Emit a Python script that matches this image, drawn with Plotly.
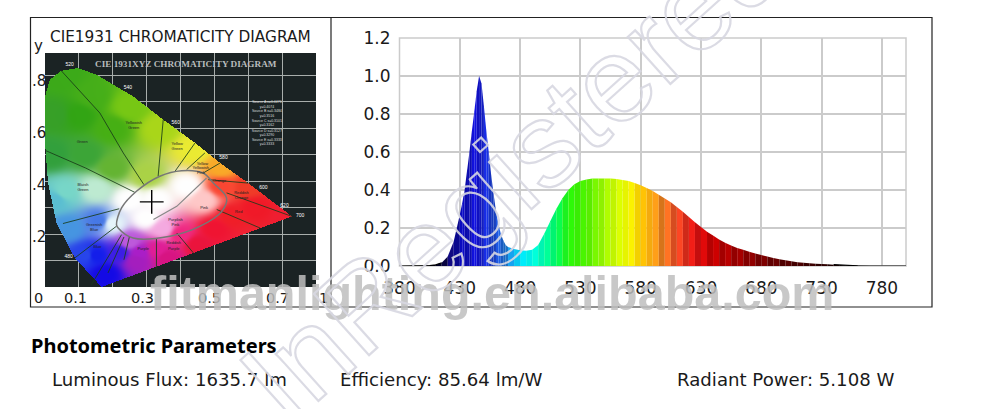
import numpy as np
import plotly.graph_objects as go

W, H = 985, 409

# spectrum
wavelengths = [380, 385, 390, 395, 400, 405, 410, 415, 420, 425,
               430, 432, 434, 436, 438, 440, 442, 444, 446, 448, 450, 452, 454, 456, 458,
               460, 462, 464, 466, 468, 470, 475, 480, 485, 490, 495, 500, 505, 510, 515,
               520, 525, 530, 535, 540, 545, 550, 555, 560, 565, 570, 575, 580, 585, 590,
               595, 600, 605, 610, 615, 620, 625, 630, 635, 640, 645, 650, 655, 660, 665,
               670, 675, 680, 685, 690, 695, 700, 705, 710, 715, 720, 725, 730, 735, 740,
               745, 750, 755, 760, 770, 780, 790, 800]
intensity = [0, 0, 0, 0, .001, .002, .006, .017, .05, .13,
             .27, .33, .40, .50, .60, .71, .81, .92, 1.0, .96, .84, .71, .60, .48, .38,
             .29, .22, .17, .135, .11, .10, .09, .083, .08, .085, .11, .17, .235, .30, .355,
             .40, .43, .447, .455, .46, .46, .46, .46, .458, .453, .447, .437, .425, .41, .395,
             .375, .355, .335, .31, .285, .258, .23, .205, .18, .16, .14, .123, .108, .095, .085,
             .075, .066, .058, .05, .042, .036, .03, .025, .02, .017, .014, .012, .011, .009, .007,
             .005, .003, .002, .001, 0, 0, 0, 0]
x_ticks = [380, 430, 480, 530, 580, 630, 680, 730, 780]
y_ticks = [0.0, 0.2, 0.4, 0.6, 0.8, 1.0, 1.2]

# colour of the fill along the spectrum
stop_nm = [380, 415, 420, 430, 445, 460, 470, 480, 490, 500, 510, 520, 535, 555, 570, 580, 595, 610, 625, 640, 660, 680, 700, 730, 760, 800]
stop_rgb = [(0, 0, 0), (0, 0, 40), (20, 10, 110), (10, 10, 190), (20, 20, 230), (30, 80, 225), (30, 140, 235),
            (0, 230, 255), (0, 255, 235), (0, 255, 170), (0, 255, 100), (40, 250, 10), (80, 245, 0), (190, 255, 0),
            (250, 255, 0), (255, 205, 0), (255, 150, 30), (255, 80, 40), (240, 20, 20), (210, 0, 0), (170, 0, 0),
            (130, 0, 0), (90, 0, 0), (50, 0, 0), (0, 0, 0), (0, 0, 0)]

# locus of the chromaticity diagram
locus_x = [.167, .088, .034, .009, 0, 0, .014, .048, .098, .152, .26, .349, .443, .517, .6, .729]
locus_y = [0, .11, .242, .393, .545, .721, .784, .818, .828, .803, .721, .633, .545, .469, .393, .267]
anchor_x = [.05, .14, .25, .34, .44, .52, .6, .72, .55, .45, .36, .27, .18, .12, .07, .03, .06, .15, .02, .12, .03, .2, .3,
            .25, .33, .42, .3, .2, .35, .47, .25,
            .1, .2, .16, .22, .15, .4, .5, .62, .52, .33, .28]
anchor_y = [.8, .72, .68, .6, .52, .45, .38, .27, .27, .16, .11, .1, .05, .12, .22, .33, .36, .37, .5, .5, .65, .45, .42,
            .33, .33, .38, .26, .24, .22, .33, .17,
            .65, .6, .25, .13, .12, .2, .22, .3, .38, .14, .13]
anchor_rgb = [(60, 170, 25), (70, 175, 25), (120, 200, 20), (170, 215, 25), (235, 235, 50), (250, 170, 40), (240, 60, 40),
              (240, 30, 50), (240, 30, 40), (235, 20, 60), (215, 20, 130), (165, 30, 190), (20, 10, 230), (40, 70, 235),
              (70, 150, 225), (90, 190, 210), (120, 215, 200), (190, 235, 210), (50, 160, 60), (60, 165, 55), (55, 160, 40),
              (100, 180, 50), (170, 210, 70), (255, 255, 255), (255, 255, 255), (255, 255, 255), (255, 255, 255),
              (230, 245, 250), (245, 170, 225), (255, 200, 200), (190, 90, 220),
              (50, 165, 20), (70, 175, 20), (70, 120, 230), (60, 30, 230), (20, 30, 235), (240, 40, 130), (240, 20, 50),
              (240, 25, 40), (250, 70, 50), (225, 30, 150), (170, 30, 200)]

# region boundaries inside the diagram
region_lines = [
    [(.048, .818), (.162, .658), (.231, .507), (.292, .387)],
    [(0, .517), (.12, .45), (.265, .358)],
    [(.053, .24), (.219, .296)],
    [(.088, .11), (.211, .23)],
    [(.137, .009), (.226, .198)],
    [(.186, .053), (.233, .189)],
    [(.233, .103), (.249, .189)],
    [(.349, .633), (.334, .419)],
    [(.443, .545), (.384, .438)],
    [(.472, .507), (.418, .444)],
    [(.517, .469), (.467, .431)],
    [(.6, .393), (.482, .406)],
    [(.729, .267), (.536, .356)],
    [(.635, .223), (.507, .293)],
    [(.389, .204), (.438, .129)],
    [(.329, .182), (.329, .066)],
]
ellipse_x = [.211, .226, .27, .339, .403, .467, .497, .536, .522, .458, .369, .26, .216, .211]
ellipse_y = [.236, .299, .362, .419, .44, .431, .393, .337, .286, .23, .192, .185, .223, .236]
inner_x = [.32, .389, .477]
inner_y = [.255, .305, .412]
white_x = [.315]
white_y = [.322]

region_names = ['Yellowish<br>Green', 'Green', 'Bluish<br>Green', 'Greenish<br>Blue', 'Blue', 'Purple', 'Reddish<br>Purple',
                'Purplish<br>Pink', 'Pink', 'Red', 'Reddish<br>Orange', 'Orange', 'Yellow', 'Yellowish<br>Pink', 'Yellow<br>Green']
name_x = [.262, .11, .112, .145, .155, .29, .38, .385, .47, .572, .58, .515, .465, .46, .39]
name_y = [.61, .55, .375, .225, .15, .145, .155, .245, .30, .285, .345, .40, .465, .44, .53]
nm_names = ['520', '540', '560', '580', '600', '620', '700', '480']
nm_x = [.073, .245, .386, .527, .645, .707, .753, .07]
nm_y = [.841, .753, .62, .49, .375, .309, .271, .116]
source_names = ['Source A x=0.4476<br>y=0.4074<br>Source B x=0.3484<br>y=0.3516<br>Source C x=0.3101<br>y=0.3162',
                'Source D x=0.3127<br>y=0.3290<br>Source E x=0.3333<br>y=0.3333']
source_x = [.655, .655]
source_y = [.655, .565]

fig = go.Figure()


def px(x):
    return x / W


def py(y):
    return 1 - y / H


# spectrum: one filled piece between each two readings
for a, b, va, vb in zip(wavelengths[:-1], wavelengths[1:], intensity[:-1], intensity[1:]):
    mid = (a + b) / 2
    rgb = [np.interp(mid, stop_nm, [c[i] for c in stop_rgb]) for i in range(3)]
    stripe = .84 if (mid < 470 or mid > 590) else .96
    k = 1.0 if int(mid // 5) % 2 == 0 else stripe
    col = 'rgb(%d,%d,%d)' % tuple(c * k for c in rgb)
    fig.add_trace(go.Scatter(x=[a, b], y=[va, vb], mode='lines', fill='tozeroy', fillcolor=col,
                             line=dict(width=0, color=col), hoverinfo='skip', xaxis='x', yaxis='y'))
fig.add_trace(go.Scatter(x=wavelengths[:8], y=intensity[:8], mode='lines', line=dict(color='black', width=1.2)))
fig.add_trace(go.Scatter(x=wavelengths[-9:], y=intensity[-9:], mode='lines', line=dict(color='black', width=1.2)))

# chromaticity image
nx, ny = 271, 234
gx = (np.arange(nx) + .5) * .8 / nx
gy = (np.arange(ny) + .5) * .885 / ny
X, Y = np.meshgrid(gx, gy)
d2 = (X[..., None] - np.array(anchor_x)) ** 2 + (Y[..., None] - np.array(anchor_y)) ** 2
w = 1 / (d2 + 1e-5) ** 2
rgb_img = (w[..., None] * np.array(anchor_rgb)).sum(axis=2) / w.sum(axis=2)[..., None]
inside = np.zeros_like(X, dtype=bool)
lx, ly = np.array(locus_x), np.array(locus_y)
for i in range(len(lx)):
    j = (i + 1) % len(lx)
    cross = ((ly[i] > Y) != (ly[j] > Y)) & (X < (lx[j] - lx[i]) * (Y - ly[i]) / (ly[j] - ly[i] + 1e-12) + lx[i])
    inside ^= cross
img = np.dstack([rgb_img, inside * 255.0]).astype(np.uint8)
fig.add_trace(go.Image(z=img, colormodel='rgba', x0=gx[0], dx=.8 / nx, y0=gy[0], dy=.885 / ny, xaxis='x2', yaxis='y2', hoverinfo='skip'))

for seg in region_lines:
    fig.add_trace(go.Scatter(x=[p[0] for p in seg], y=[p[1] for p in seg], mode='lines',
                             line=dict(color='rgba(25,60,25,.85)', width=1), xaxis='x2', yaxis='y2'))
fig.add_trace(go.Scatter(x=ellipse_x, y=ellipse_y, mode='lines', line=dict(color='#777', width=1.5, shape='spline'), xaxis='x2', yaxis='y2'))
fig.add_trace(go.Scatter(x=inner_x, y=inner_y, mode='lines', line=dict(color='#888', width=1.2), xaxis='x2', yaxis='y2'))
fig.add_trace(go.Scatter(x=white_x, y=white_y, mode='markers', xaxis='x2', yaxis='y2',
                         marker=dict(symbol='cross-thin', size=17, line=dict(color='black', width=1.4))))
fig.add_trace(go.Scatter(x=name_x, y=name_y, mode='text', text=region_names, xaxis='x2', yaxis='y2',
                         textfont=dict(family='Liberation Sans', size=4, color='#222')))
fig.add_trace(go.Scatter(x=nm_x, y=nm_y, mode='text', text=nm_names, xaxis='x2', yaxis='y2',
                         textfont=dict(family='Liberation Sans', size=5, color='white')))
fig.add_trace(go.Scatter(x=source_x, y=source_y, mode='text', text=source_names, xaxis='x2', yaxis='y2',
                         textfont=dict(family='Liberation Sans', size=3.5, color='#dddddd')))

shapes = [
    dict(type='rect', xref='paper', yref='paper', x0=px(30.5), x1=px(932), y0=py(307), y1=py(17.5),
         line=dict(color='#222', width=1.2), layer='below'),
    dict(type='line', xref='paper', yref='paper', x0=px(331), x1=px(331), y0=py(307), y1=py(17.5),
         line=dict(color='#222', width=1.2), layer='below'),
    dict(type='rect', xref='paper', yref='paper', x0=px(45), x1=px(316), y0=py(287), y1=py(53),
         fillcolor='#1b2324', line=dict(width=0), layer='below'),
    dict(type='rect', xref='paper', yref='paper', x0=px(399.5), x1=px(906), y0=py(266), y1=py(38),
         line=dict(color='#cbcbcb', width=1.5), layer='below'),
]

annots = []


def label(text, x, y, size, anchor='left', family='DejaVu Sans', color='#1a1a1a', **kw):
    annots.append(dict(text=text, x=px(x), y=py(y), xref='paper', yref='paper', xanchor=anchor, yanchor='middle',
                       showarrow=False, font=dict(family=family, size=size, color=color), **kw))


label('CIE1931 CHROMATICITY DIAGRAM', 47.5, 37, 15.3)
label('y', 38, 46, 15, 'center')
for t, yy in zip(['.8', '.6', '.4', '.2'], [81, 133, 185, 237]):
    label(t, 39, yy, 15, 'center')
for t, xx in zip(['0', '0.1', '0.3', '0.5', '0.7', '1'], [38, 75, 142, 209, 277, 323]):
    label(t, xx, 298, 14.5, 'center')
label('<b>CIE 1931XYZ CHROMATICITY DIAGRAM</b>', 186, 63.5, 9.2, 'center', family='Liberation Serif', color='#b8bcbc')
label('<b>Photometric Parameters</b>', 29, 345, 20, family='Noto Sans', color='black')
label('Luminous Flux: 1635.7 lm', 50, 379, 18.15)
label('Efficiency: 85.64 lm/W', 338, 379, 18.15)
label('Radiant Power: 5.108 W', 675, 379, 18.15)
label('<b>fitmanlighting.en.alibaba.com</b>', 492, 293, 48.5, 'center', family='Liberation Sans', color='rgba(190,190,190,.85)')
# outlined diagonal watermark, stroked after the plot is drawn; on the data axes so it does not push the margins
annots.append(dict(text='InRegistered', x=473.4, y=.505, xref='x', yref='y', showarrow=False, textangle=-42,
                   font=dict(family='Liberation Sans', size=120, color='#d5d5d5')))

fig.update_layout(
    width=W, height=H, margin=dict(l=0, r=0, t=0, b=0), autosize=False,
    paper_bgcolor='white', plot_bgcolor='rgba(0,0,0,0)', showlegend=False,
    xaxis=dict(domain=[px(399.5), px(906)], range=[380, 800], tickvals=x_ticks, ticks='', showline=False, zeroline=False,
               gridcolor='#cbcbcb', gridwidth=1.5, ticklabelstandoff=10, automargin=False,
               tickfont=dict(family='DejaVu Sans', size=17, color='#1a1a1a')),
    yaxis=dict(domain=[py(266), py(38)], range=[0, 1.2], tickvals=y_ticks, tickformat='.1f', zeroline=False,
               gridcolor='#cbcbcb', gridwidth=1.5, ticklabelstandoff=8, automargin=False,
               tickfont=dict(family='DejaVu Sans', size=17, color='#1a1a1a')),
    xaxis2=dict(domain=[px(45), px(316)], range=[0, .8], anchor='y2', dtick=.1, showticklabels=False, zeroline=False,
                gridcolor='#a9aeac', gridwidth=1.2, automargin=False),
    yaxis2=dict(domain=[py(287), py(53)], range=[0, .885], anchor='x2', dtick=.1, showticklabels=False, zeroline=False,
                gridcolor='#a9aeac', gridwidth=1.2, automargin=False, scaleanchor=False),
    shapes=shapes, annotations=annots,
)

page_js = """
document.body.style.margin = '0';
var t = document.querySelector('.annotation[data-index="%d"] text');
if (t) { t.style.setProperty('fill', 'none'); t.style.setProperty('stroke', 'rgba(215,215,225,.9)'); t.style.setProperty('stroke-width', '2.2px'); }
""" % (len(annots) - 1)
fig.write_html("out.html", post_script=page_js, config=dict(displayModeBar=False))
